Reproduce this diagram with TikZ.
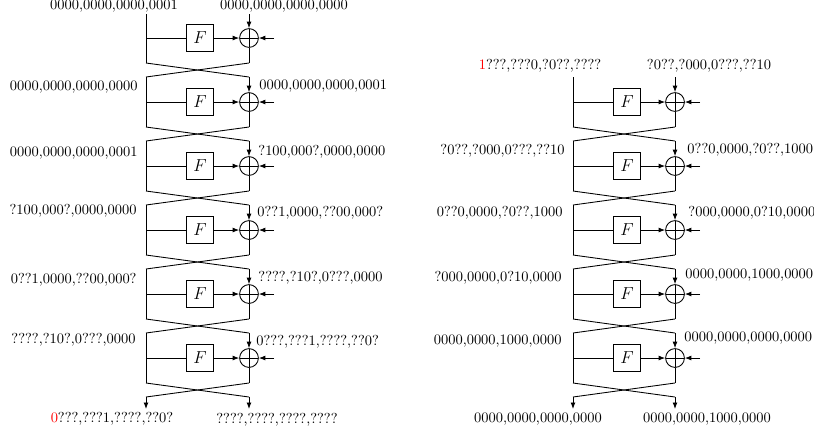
\documentclass[tikz,border=0pt]{standalone}
\usepackage{tikz}
\usetikzlibrary{arrows.meta,calc}

\begin{document}
\begin{tikzpicture}[x=0.0243cm,y=-0.0243cm,semithick,
    >={Latex[length=4.5pt,width=3.4pt]},
    fbox/.style={draw,minimum size=18.5pt,inner sep=0pt,font=\large},
    xorop/.style={circle,draw,minimum size=13pt,inner sep=0pt,
      path picture={\draw (path picture bounding box.north)--(path picture bounding box.south)
        (path picture bounding box.west)--(path picture bounding box.east);}},
    lbl/.style={inner sep=0pt}]
  \useasboundingbox (0,0) rectangle (814,434);

  % Left trail: six rounds.
  \coordinate (tlL1) at (146,14);
  \coordinate (trL1) at (249,14);
  \foreach \i in {1,...,6}{
    \pgfmathsetmacro{\fy}{38+64*(\i-1)}
    \pgfmathtruncatemacro{\j}{\i+1}
    \node[fbox] (fL\i) at (200,\fy) {$F$};
    \node[xorop] (xL\i) at (249,\fy) {};
    \coordinate (brL\i) at (146,\fy);
    \coordinate (inL\i) at (274,\fy);
    \coordinate (blL\i) at (146,\fy+25);
    \coordinate (bxL\i) at (249,\fy+25);
    \coordinate (tlL\j) at (146,\fy+39);
    \coordinate (trL\j) at (249,\fy+39);
    \draw (tlL\i) -- (blL\i);
    \draw (brL\i) -- (fL\i);
    \draw[->] (fL\i) -- (xL\i);
    \draw[->] (inL\i) -- (xL\i);
    \draw[->] (trL\i) -- (xL\i);
    \draw (xL\i) -- (bxL\i);
    \draw (blL\i) -- (trL\j);
    \draw (bxL\i) -- (tlL\j);
  }
  \coordinate (outlL) at (146,409);
  \coordinate (outrL) at (249,409);
  \draw[->] (tlL7) -- (outlL);
  \draw[->] (trL7) -- (outrL);

  % Right trail: five rounds.
  \coordinate (tlR1) at (573,77);
  \coordinate (trR1) at (675,77);
  \foreach \i in {1,...,5}{
    \pgfmathsetmacro{\fy}{102+64*(\i-1)}
    \pgfmathtruncatemacro{\j}{\i+1}
    \node[fbox] (fR\i) at (627,\fy) {$F$};
    \node[xorop] (xR\i) at (675,\fy) {};
    \coordinate (brR\i) at (573,\fy);
    \coordinate (inR\i) at (700,\fy);
    \coordinate (blR\i) at (573,\fy+25);
    \coordinate (bxR\i) at (675,\fy+25);
    \coordinate (tlR\j) at (573,\fy+39);
    \coordinate (trR\j) at (675,\fy+39);
    \draw (tlR\i) -- (blR\i);
    \draw (brR\i) -- (fR\i);
    \draw[->] (fR\i) -- (xR\i);
    \draw[->] (inR\i) -- (xR\i);
    \draw[->] (trR\i) -- (xR\i);
    \draw (xR\i) -- (bxR\i);
    \draw (blR\i) -- (trR\j);
    \draw (bxR\i) -- (tlR\j);
  }
  \coordinate (outlR) at (573,409);
  \coordinate (outrR) at (675,409);
  \draw[->] (tlR6) -- (outlR);
  \draw[->] (trR6) -- (outrR);

  % Differences, left trail.
  \node[lbl] (inaL) at (114,6) {0000,0000,0000,0001};
  \node[lbl] (inbL) at (284,6) {0000,0000,0000,0000};
  \node[lbl,anchor=east] (dl2) at (138,87) {0000,0000,0000,0000};
  \node[lbl,anchor=west] (dr2) at (259,86) {0000,0000,0000,0001};
  \node[lbl,anchor=east] (dl3) at (138,153) {0000,0000,0000,0001};
  \node[lbl,anchor=west] (dr3) at (258,152) {?100,000?,0000,0000};
  \node[lbl,anchor=east] (dl4) at (137,211) {?100,000?,0000,0000};
  \node[lbl,anchor=west] (dr4) at (257,213) {0??1,0000,??00,000?};
  \node[lbl,anchor=east] (dl5) at (137,280) {0??1,0000,??00,000?};
  \node[lbl,anchor=west] (dr5) at (258,278) {????,?10?,0???,0000};
  \node[lbl,anchor=east] (dl6) at (136,340) {????,?10?,0???,0000};
  \node[lbl,anchor=west] (dr6) at (256,342) {0???,???1,????,??0?};
  \node[lbl] (outaL) at (112,419) {\textcolor{red}{0}???,???1,????,??0?};
  \node[lbl] (outbL) at (277,420) {????,????,????,????};

  % Differences, right trail.
  \node[lbl] (inaR) at (540,66) {\textcolor{red}{1}???,???0,?0??,????};
  \node[lbl] (inbR) at (709,66) {?0??,?000,0???,??10};
  \node[lbl,anchor=east] (el2) at (565,151) {?0??,?000,0???,??10};
  \node[lbl,anchor=west] (er2) at (687,150) {0??0,0000,?0??,1000};
  \node[lbl,anchor=east] (el3) at (563,213) {0??0,0000,?0??,1000};
  \node[lbl,anchor=west] (er3) at (688,213) {?000,0000,0?10,0000};
  \node[lbl,anchor=east] (el4) at (562,278) {?000,0000,0?10,0000};
  \node[lbl,anchor=west] (er4) at (685,275) {0000,0000,1000,0000};
  \node[lbl,anchor=east] (el5) at (562,341) {0000,0000,1000,0000};
  \node[lbl,anchor=west] (er5) at (684,338) {0000,0000,0000,0000};
  \node[lbl] (outaR) at (538,419) {0000,0000,0000,0000};
  \node[lbl] (outbR) at (707,419) {0000,0000,1000,0000};
\end{tikzpicture}
\end{document}
